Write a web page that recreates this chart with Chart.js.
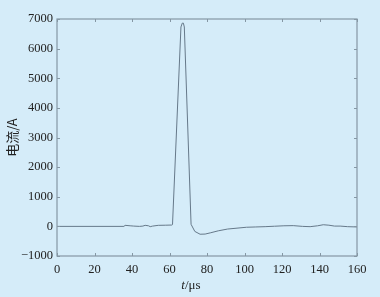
<!DOCTYPE html>
<html>
<head>
<meta charset="utf-8">
<script src="https://cdn.jsdelivr.net/npm/chart.js@4/dist/chart.umd.min.js"></script>
<style>
html,body{margin:0;padding:0;background:#d5ecf9;}
#wrap{width:380px;height:297px;position:relative;}
</style>
</head>
<body>
<div id="wrap"><canvas id="c" width="380" height="297"></canvas></div>
<script>
// time (µs)
const timeUs = [0, 35.7, 36.3, 39, 40.9, 44, 45.8, 47, 48.8, 49.7, 51, 54, 58, 61.2, 61.6, 66.1, 66.8, 67.4, 67.9, 71.5, 73.5, 76.3, 79, 82, 86, 91, 96, 101, 106, 111, 116, 121, 126, 131, 135, 139, 142, 145, 148, 151, 155, 160];
// current (A)
const currentA = [0, 0, 35, 20, 10, 0, 10, 35, 20, -10, 10, 35, 40, 45, 60, 6730, 6860, 6860, 6730, 70, -170, -265, -260, -215, -150, -90, -60, -30, -20, -10, 5, 20, 25, 0, -10, 20, 55, 40, 10, 10, -10, -20];
const xTicks = [0, 20, 40, 60, 80, 100, 120, 140, 160];
const yTicks = [-1000, 0, 1000, 2000, 3000, 4000, 5000, 6000, 7000];
const yTitle = '电流/A';
const xTitleItalic = 't';
const xTitleRest = '/μs';

const pts = timeUs.map((t, i) => ({x: t, y: currentA[i]}));
const FRAME = '#8597a4';
const TXT = '#222';

const decor = {
  id: 'decor',
  beforeDraw(chart) {
    const c = chart.ctx;
    c.save();
    c.fillStyle = '#d5ecf9';
    c.fillRect(0, 0, chart.width, chart.height);
    c.restore();
  },
  afterDraw(chart) {
    const c = chart.ctx, a = chart.chartArea;
    const xs = chart.scales.x, ys = chart.scales.y;
    c.save();
    c.strokeStyle = FRAME;
    c.lineWidth = 1.2;
    c.strokeRect(a.left, a.top, a.right - a.left, a.bottom - a.top);
    c.lineWidth = 1;
    const L = 3;
    xTicks.forEach(v => {
      const px = Math.round(xs.getPixelForValue(v)) + 0.5;
      c.beginPath();
      c.moveTo(px, a.bottom); c.lineTo(px, a.bottom - L);
      c.moveTo(px, a.top); c.lineTo(px, a.top + L);
      c.stroke();
    });
    yTicks.forEach(v => {
      const py = Math.round(ys.getPixelForValue(v)) + 0.5;
      c.beginPath();
      c.moveTo(a.left, py); c.lineTo(a.left + L, py);
      c.moveTo(a.right, py); c.lineTo(a.right - L, py);
      c.stroke();
    });
    // y title
    c.fillStyle = TXT;
    c.font = '13px "Noto Sans CJK SC"';
    c.textAlign = 'center';
    c.textBaseline = 'middle';
    c.translate(12, (a.top + a.bottom) / 2);
    c.rotate(-Math.PI / 2);
    c.fillText(yTitle, 0, 0);
    c.setTransform(1, 0, 0, 1, 0, 0);
    // x title
    c.textBaseline = 'alphabetic';
    c.textAlign = 'left';
    c.font = 'italic 13px "Liberation Serif"';
    const w1 = c.measureText(xTitleItalic).width;
    c.font = '13px "Liberation Serif"';
    const w2 = c.measureText(xTitleRest).width;
    const x0 = 191 - (w1 + w2) / 2;
    c.font = 'italic 13px "Liberation Serif"';
    c.fillText(xTitleItalic, x0, 289);
    c.font = '13px "Liberation Serif"';
    c.fillText(xTitleRest, x0 + w1, 289);
    c.restore();
  }
};

new Chart(document.getElementById('c'), {
  type: 'line',
  data: {
    datasets: [{
      data: pts,
      borderColor: '#66798a',
      borderWidth: 1,
      pointRadius: 0,
      tension: 0,
      fill: false
    }]
  },
  options: {
    responsive: false,
    animation: false,
    events: [],
    layout: {padding: {top: 19, right: 23, left: 0, bottom: 0}},
    plugins: {legend: {display: false}, tooltip: {enabled: false}},
    scales: {
      x: {
        type: 'linear', min: 0, max: 160,
        afterBuildTicks: s => { s.ticks = xTicks.map(v => ({value: v})); },
        afterFit: s => { s.height = 41; },
        grid: {display: false, drawTicks: false},
        border: {display: false},
        ticks: {color: TXT, font: {family: '"Liberation Serif"', size: 12.5}, padding: 6, maxRotation: 0}
      },
      y: {
        type: 'linear', min: -1000, max: 7000,
        afterBuildTicks: s => { s.ticks = yTicks.map(v => ({value: v})); },
        afterFit: s => { s.width = 57; },
        grid: {display: false, drawTicks: false},
        border: {display: false},
        ticks: {color: TXT, font: {family: '"Liberation Serif"', size: 12.5}, padding: 4,
          callback: v => v < 0 ? '\u2212' + Math.abs(v) : String(v)}
      }
    }
  },
  plugins: [decor]
});
</script>
</body>
</html>
